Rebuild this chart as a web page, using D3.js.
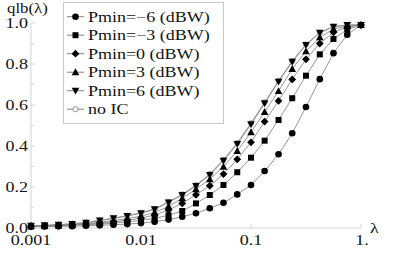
<!DOCTYPE html>
<html>
<head>
<meta charset="utf-8">
<title>qlb</title>
<script src="https://cdn.jsdelivr.net/npm/d3@7"></script>
<style>
body { margin: 0; background: #fff; }
.axis-line { stroke: #d4d4d4; stroke-width: 1; fill: none; }
.series-line { fill: none; stroke: #8a8a8a; stroke-width: 0.9; }
</style>
</head>
<body>
<script>
// lambda values on the x axis (log spaced, 8 per decade)
var lambda = [0.001, 0.00133, 0.00178, 0.00237, 0.00316, 0.00422, 0.00562, 0.0075,
              0.01, 0.0133, 0.0178, 0.0237, 0.0316, 0.0422, 0.0562, 0.075,
              0.1, 0.133, 0.178, 0.237, 0.316, 0.422, 0.562, 0.75, 1];

var pminM6 = [0.006, 0.007, 0.008, 0.009, 0.011, 0.013, 0.016, 0.019, 0.024, 0.031, 0.041, 0.055,
              0.072, 0.096, 0.123, 0.164, 0.21, 0.278, 0.36, 0.462, 0.59, 0.726, 0.853, 0.943, 0.99];
var pminM3 = [0.008, 0.009, 0.011, 0.013, 0.016, 0.019, 0.024, 0.030, 0.037, 0.047, 0.062, 0.083,
              0.12, 0.161, 0.21, 0.272, 0.343, 0.426, 0.527, 0.633, 0.743, 0.847, 0.922, 0.968, 0.99];
var pmin0  = [0.009, 0.010, 0.012, 0.015, 0.019, 0.024, 0.030, 0.038, 0.048, 0.063, 0.088, 0.12,
              0.162, 0.206, 0.263, 0.335, 0.418, 0.519, 0.62, 0.725, 0.823, 0.90, 0.955, 0.98, 0.99];
var pmin3  = [0.010, 0.011, 0.013, 0.017, 0.022, 0.028, 0.036, 0.046, 0.058, 0.076, 0.105, 0.145,
              0.189, 0.238, 0.299, 0.376, 0.467, 0.566, 0.668, 0.776, 0.862, 0.93, 0.97, 0.985, 0.99];
var pmin6  = [0.011, 0.013, 0.016, 0.020, 0.026, 0.036, 0.047, 0.059, 0.072, 0.091, 0.125, 0.161,
              0.205, 0.259, 0.328, 0.41, 0.506, 0.608, 0.714, 0.811, 0.893, 0.952, 0.982, 0.99, 0.99];
var noIC   = [0.011, 0.013, 0.016, 0.021, 0.027, 0.037, 0.048, 0.060, 0.074, 0.093, 0.127, 0.164,
              0.209, 0.263, 0.333, 0.415, 0.511, 0.613, 0.718, 0.814, 0.895, 0.953, 0.982, 0.99, 0.99];

var seriesNames = ["Pmin=\u22126 (dBW)", "Pmin=\u22123 (dBW)", "Pmin=0 (dBW)",
                   "Pmin=3 (dBW)", "Pmin=6 (dBW)", "no IC"];
var yTicks = [0, 0.2, 0.4, 0.6, 0.8, 1.0];
var yTickLabels = ["0.0", "0.2", "0.4", "0.6", "0.8", "1.0"];
var xTicks = [0.001, 0.01, 0.1, 1];
var xTickLabels = ["0.001", "0.01", "0.1", "1."];

var W = 407, H = 253;
var SX = 1.2; // the picture's text is stretched sideways

var svg = d3.select("body").append("svg")
    .attr("width", W).attr("height", H);

var x = d3.scaleLog().domain([0.001, 1]).range([31, 361]);
var y = d3.scaleLinear().domain([0, 1]).range([228, 23]);

function label(g, px, py, str, anchor, size) {
  return g.append("text")
      .attr("transform", "translate(" + px + "," + py + ") scale(" + SX + ",1)")
      .attr("text-anchor", anchor || "start")
      .style("font-family", "'Liberation Serif'")
      .style("font-size", (size || 15) + "px")
      .attr("fill", "#111")
      .text(str);
}

// axes
var axG = svg.append("g");
axG.append("line").attr("class", "axis-line")
    .attr("x1", x(0.001)).attr("x2", x(0.001)).attr("y1", y(0)).attr("y2", y(1));
axG.append("line").attr("class", "axis-line")
    .attr("x1", x(0.001)).attr("x2", x(1)).attr("y1", y(0)).attr("y2", y(0));

d3.range(0, 11).forEach(function (i) {
  var v = i / 10;
  axG.append("line").attr("class", "axis-line")
      .attr("x1", x(0.001)).attr("x2", x(0.001) + (i % 2 === 0 ? 4 : 2.5))
      .attr("y1", y(v)).attr("y2", y(v));
});
xTicks.forEach(function (v) {
  axG.append("line").attr("class", "axis-line")
      .attr("x1", x(v)).attr("x2", x(v)).attr("y1", y(0)).attr("y2", y(0) - 4);
});

yTicks.forEach(function (v, i) {
  label(axG, 28, y(v) + 5, yTickLabels[i], "end", 15);
});
xTicks.forEach(function (v, i) {
  label(axG, x(v) + (i === 3 ? 1 : 0), 245, xTickLabels[i], "middle", 15);
});
label(axG, 7, 13, "qlb(\u03bb)", "start", 14);
label(axG, 370, 233, "\u03bb", "start", 15);

// markers
var shapes = [
  function (g) { g.append("circle").attr("r", 3.3); },
  function (g) { g.append("rect").attr("x", -3).attr("y", -3).attr("width", 6).attr("height", 6); },
  function (g) { g.append("path").attr("d", "M0,-3.9L3.9,0L0,3.9L-3.9,0Z"); },
  function (g) { g.append("path").attr("d", "M0,-3.9L3.8,3L-3.8,3Z"); },
  function (g) { g.append("path").attr("d", "M0,3.9L3.8,-3L-3.8,-3Z"); },
  function (g) { g.append("circle").attr("r", 2.6).attr("fill", "#fff").attr("stroke", "#777").attr("stroke-width", 0.8); }
];

var allSeries = [pminM6, pminM3, pmin0, pmin3, pmin6, noIC];
var line = d3.line()
    .x(function (d) { return x(d[0]); })
    .y(function (d) { return y(d[1]); });

var plotG = svg.append("g");
// "no IC" goes first so the filled markers sit on top of it
var order = [5, 0, 1, 2, 3, 4];
order.forEach(function (si) {
  var pts = lambda.map(function (l, i) { return [l, allSeries[si][i]]; });
  plotG.append("path").attr("class", "series-line").attr("d", line(pts));
});
order.forEach(function (si) {
  var pts = lambda.map(function (l, i) { return [l, allSeries[si][i]]; });
  plotG.selectAll(null).data(pts).enter().append("g")
      .attr("fill", "#000")
      .attr("transform", function (d) { return "translate(" + x(d[0]) + "," + y(d[1]) + ")"; })
      .each(function () { shapes[si](d3.select(this)); });
});

// legend
var lg = svg.append("g");
lg.append("rect").attr("x", 63.5).attr("y", 2.5).attr("width", 160).attr("height", 121)
    .attr("fill", "#fff").attr("stroke", "#c8c8c8");
seriesNames.forEach(function (name, i) {
  var ry = 16.7 + i * 18.5;
  lg.append("line").attr("x1", 67).attr("x2", 84).attr("y1", ry).attr("y2", ry)
      .attr("stroke", "#777").attr("stroke-width", 0.9);
  var m = lg.append("g").attr("fill", "#000").attr("transform", "translate(75.5," + ry + ")");
  shapes[i](m);
  label(lg, 88, ry + 5, name, "start", 15);
});
</script>
</body>
</html>
